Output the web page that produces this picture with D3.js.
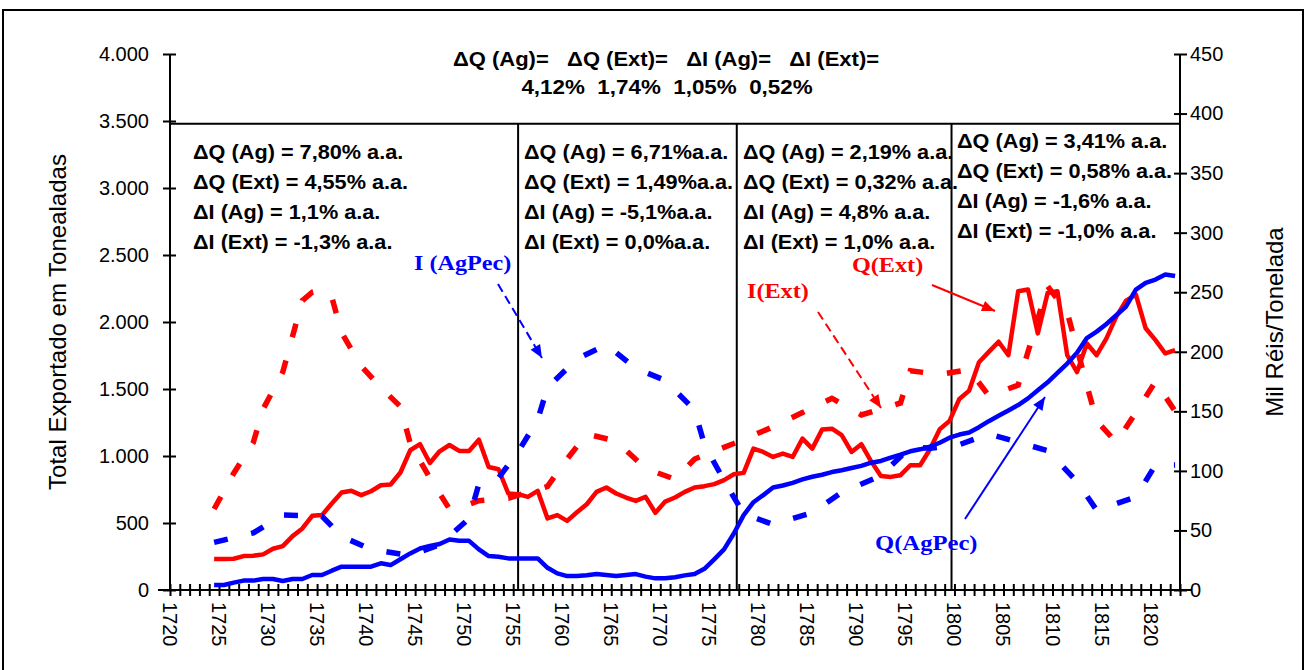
<!DOCTYPE html>
<html><head><meta charset="utf-8">
<script src="https://cdn.jsdelivr.net/npm/d3@7"></script>
<style>body{margin:0;background:#fff}svg{display:block}</style>
</head><body><svg id="c" width="1306" height="670"></svg>
<script>
// ---- data ----
const years = d3.range(1724, 1823);
const qExt = [231,231,233,253,256,266,308,328,402,459,554,559,646,728,740,708,737,782,787,877,
  1043,1088,948,1035,1082,1038,1038,1122,918,901,720,715,695,740,534,559,516,580,640,732,
  765,720,690,665,695,576,660,690,732,765,775,790,820,864,874,1055,1030,993,1018,993,
  1130,1055,1197,1204,1155,1030,1088,960,850,844,857,931,931,1050,1200,1262,1426,1488,1700,1777,
  1853,1752,2230,2242,1915,2217,2230,1752,1626,1840,1752,1878,2040,2160,2204,1953,1865,1765,1790];
const qAg = [37,37,55,70,70,82,82,67,82,82,112,112,144,174,174,174,174,199,186,229,
  273,310,328,343,377,367,367,303,253,248,236,236,236,236,166,124,104,104,110,119,
  112,104,112,119,100,87,87,95,109,120,158,229,303,422,559,655,708,765,780,800,
  825,845,860,880,894,910,926,950,963,988,1010,1035,1050,1070,1099,1137,1160,1175,1215,1260,
  1300,1340,1380,1430,1490,1550,1620,1690,1770,1880,1928,1985,2050,2116,2242,2292,2317,2355,2343];
const iExtYears = [1724,1726,1728,1729,1731,1732,1733,1734,1735,1736,1737,1739,1741,1743,1744,1746,1748,1750,1751,1754,1758,1760,1762,1765,1768,1771,1773,1777,1781,1784,1787,1790,1794,1795,1798,1801,1803,1806,1807,1809,1811,1813,1814,1816,1818,1820,1822];
const iExt = [68,98,124,152,183,213,243,250,252,246,216,188,170,154,123,94,68,72,75,77,87,110,131,125,102,93,110,123,137,149,161,147,157,184,181,185,163,172,200,255,233,172,142,124,149,175,150];
const iAgYears = [1724,1728,1731,1735,1737,1740,1744,1747,1750,1751,1753,1755,1757,1758,1761,1764,1767,1770,1773,1774,1776,1778,1781,1785,1788,1792,1795,1797,1800,1803,1806,1809,1812,1814,1818,1820,1822];
const iAg = [40,48,63,62,45,34,29,38,60,89,94,116,143,170,194,206,186,176,151,122,92,64,55,65,82,96,120,119,122,131,124,117,91,67,78,105,105];
const leftTicks = [0,500,1000,1500,2000,2500,3000,3500,4000];
const rightTicks = [0,50,100,150,200,250,300,350,400,450];
const labelYears = d3.range(1720, 1821, 5);
const periodBounds = [1755.5, 1777.8, 1799.7];
const periodTexts = [
  ["ΔQ (Ag) = 7,80% a.a.","ΔQ (Ext) = 4,55% a.a.","ΔI (Ag) = 1,1% a.a.","ΔI (Ext) = -1,3% a.a."],
  ["ΔQ (Ag) = 6,71%a.a.","ΔQ (Ext) = 1,49%a.a.","ΔI (Ag) = -5,1%a.a.","ΔI (Ext) = 0,0%a.a."],
  ["ΔQ (Ag) = 2,19% a.a.","ΔQ (Ext) = 0,32% a.a.","ΔI (Ag) = 4,8% a.a.","ΔI (Ext) = 1,0% a.a."],
  ["ΔQ (Ag) = 3,41% a.a.","ΔQ (Ext) = 0,58% a.a.","ΔI (Ag) = -1,6% a.a.","ΔI (Ext) = -1,0% a.a."]
];
const topLine1 = "ΔQ (Ag)=   ΔQ (Ext)=   ΔI (Ag)=   ΔI (Ext)=";
const topLine2 = "4,12%  1,74%  1,05%  0,52%";

// ---- layout ----
const svg = d3.select("#c");
const SANS = "'Liberation Sans', Arial, sans-serif";
const SERIF = "'Liberation Serif', 'Times New Roman', serif";
const RED = "#ff0000", BLUE = "#0000ff";
const x = d3.scaleLinear().domain([1720, 1823]).range([170, 1180]);
const yL = d3.scaleLinear().domain([0, 4000]).range([590, 54]);
const yR = d3.scaleLinear().domain([0, 450]).range([590, 54]);
const fmt = d3.formatLocale({decimal:",", thousands:".", grouping:[3], currency:["",""]}).format(",");

svg.append("rect").attr("x",3).attr("y",10).attr("width",1300).attr("height",700)
  .attr("fill","none").attr("stroke","#000").attr("stroke-width",2);

function txt(px, py, s, size, opts={}) {
  return svg.append("text")
    .attr("transform", `translate(${px},${py}) scale(${opts.sx||1},1)`)
    .attr("font-family", opts.family||SANS).attr("font-size", size)
    .attr("font-weight", opts.weight||"normal").attr("fill", opts.fill||"#000")
    .attr("text-anchor", opts.anchor||"start").style("white-space","pre").text(s);
}

// period box lines
svg.append("line").attr("x1",x(1720)).attr("x2",x(1823)).attr("y1",yL(3480)).attr("y2",yL(3480))
  .attr("stroke","#000").attr("stroke-width",2);
periodBounds.forEach(b => svg.append("line").attr("x1",x(b)).attr("x2",x(b))
  .attr("y1",yL(3480)).attr("y2",yL(0)).attr("stroke","#000").attr("stroke-width",2));

// axes
const gL = svg.append("g").attr("transform",`translate(${x(1720)},0)`)
  .call(d3.axisLeft(yL).tickValues(leftTicks).tickFormat(fmt).tickSize(7).tickPadding(14));
gL.selectAll(".tick line").attr("x1",6);
const gR = svg.append("g").attr("transform",`translate(${x(1823)},0)`)
  .call(d3.axisRight(yR).tickValues(rightTicks).tickSize(7).tickPadding(3));
gR.selectAll(".tick line").attr("x1",-6);
const gB = svg.append("g").attr("transform",`translate(0,${yL(0)})`)
  .call(d3.axisBottom(x).tickValues(d3.range(1720,1824)).tickFormat("").tickSize(6).tickSizeOuter(0));
gB.selectAll(".tick line").attr("y1",-6);
[gL,gR,gB].forEach(g=>{g.selectAll("path.domain").attr("stroke","#000").attr("stroke-width",2);
  g.selectAll(".tick line").attr("stroke","#000").attr("stroke-width",2);
  g.selectAll("text").attr("font-family",SANS).attr("font-size",20).attr("fill","#000");});
gL.select("path.domain").attr("d",`M0,${yL(4000)}V${yL(0)}`);
gR.select("path.domain").attr("d",`M0,${yR(450)}V${yR(0)}`);
gB.select("path.domain").attr("d",`M${x(1720)-12},0H${x(1823)+12}`);

labelYears.forEach(yr => {
  svg.append("text").attr("transform",`translate(${x(yr)},602) rotate(90)`)
    .attr("font-family",SANS).attr("font-size",20).attr("dominant-baseline","central")
    .text(yr);
});

// axis titles
svg.append("text").attr("transform","translate(57,322) rotate(-90)").attr("text-anchor","middle")
  .attr("dominant-baseline","central").attr("font-family",SANS).attr("font-size",24)
  .text("Total Exportado em Tonealadas");
svg.append("text").attr("transform","translate(1274,322) rotate(-90)").attr("text-anchor","middle")
  .attr("dominant-baseline","central").attr("font-family",SANS).attr("font-size",24)
  .text("Mil Réis/Tonelada");

// series
const lineL = d3.line().x((d,i)=>x(years[i]+0.5)).y(d=>yL(d));
svg.append("path").datum(qExt).attr("d",lineL).attr("fill","none").attr("stroke",RED).attr("stroke-width",4.5).attr("stroke-linejoin","round");
svg.append("path").datum(qAg).attr("d",lineL).attr("fill","none").attr("stroke",BLUE).attr("stroke-width",4.5).attr("stroke-linejoin","round");
const lineR = (ys) => d3.line().x((d,i)=>x(ys[i]+0.5)).y(d=>yR(d));
svg.append("path").datum(iExt).attr("d",lineR(iExtYears)).attr("fill","none").attr("stroke",RED)
  .attr("stroke-width",5.5).attr("stroke-dasharray","14,24");
svg.append("path").datum(iAg).attr("d",lineR(iAgYears)).attr("fill","none").attr("stroke",BLUE)
  .attr("stroke-width",5.5).attr("stroke-dasharray","14,24");

// period annotations
const periodX = [193, 524, 743, 957];
const periodY0 = [159, 159, 159, 148];
periodTexts.forEach((lines,p)=>lines.forEach((s,k)=>
  txt(periodX[p], periodY0[p]+k*30, s, 20, {weight:"bold", sx:1.085})));
txt(666, 66, topLine1, 20, {weight:"bold", anchor:"middle", sx:1.1});
txt(667, 94, topLine2, 20, {weight:"bold", anchor:"middle", sx:1.12});

// series labels and arrows
function arrow(x1,y1,x2,y2,color,dash){
  svg.append("line").attr("x1",x1).attr("y1",y1).attr("x2",x2).attr("y2",y2)
    .attr("stroke",color).attr("stroke-width",2).attr("stroke-dasharray",dash||null);
  const a = Math.atan2(y2-y1,x2-x1), L=13, W=5.5;
  const p = [[x2,y2],[x2-L*Math.cos(a)+W*Math.sin(a), y2-L*Math.sin(a)-W*Math.cos(a)],
             [x2-L*Math.cos(a)-W*Math.sin(a), y2-L*Math.sin(a)+W*Math.cos(a)]];
  svg.append("path").attr("d","M"+p.join("L")+"Z").attr("fill",color);
}
txt(414, 270, "I (AgPec)", 22, {family:SERIF, weight:"bold", fill:BLUE, sx:1.1});
arrow(498,284,542,358,BLUE,"9,5");
txt(747, 298, "I(Ext)", 22, {family:SERIF, weight:"bold", fill:RED, sx:1.1});
arrow(818,312,881,408,RED,"9,5");
txt(852, 272, "Q(Ext)", 22, {family:SERIF, weight:"bold", fill:RED, sx:1.1});
arrow(932,285,995,311,RED);
txt(875, 550, "Q(AgPec)", 22, {family:SERIF, weight:"bold", fill:BLUE, sx:1.12});
arrow(965,519,1045,397,BLUE);
</script></body></html>
